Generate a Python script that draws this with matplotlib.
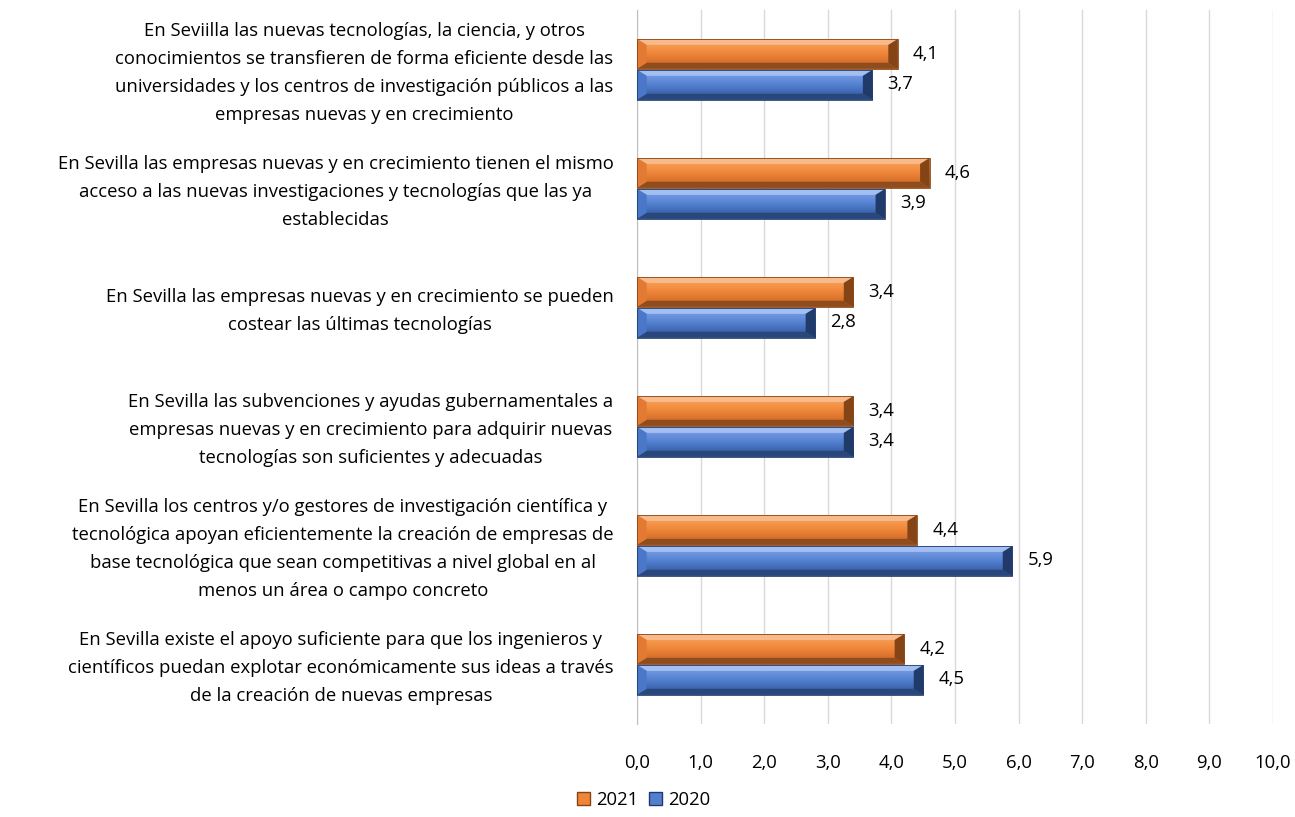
import matplotlib.pyplot as plt
from matplotlib.patches import Polygon, Rectangle, Patch
from matplotlib.colors import LinearSegmentedColormap
import numpy as np

plt.rcParams['font.family'] = ['Open Sans', 'DejaVu Sans']

categories = [
    "En Seviilla las nuevas tecnologías, la ciencia, y otros\nconocimientos se transfieren de forma eficiente desde las\nuniversidades y los centros de investigación públicos a las\nempresas nuevas y en crecimiento",
    "En Sevilla las empresas nuevas y en crecimiento tienen el mismo\nacceso a las nuevas investigaciones y tecnologías que las ya\nestablecidas",
    "En Sevilla las empresas nuevas y en crecimiento se pueden\ncostear las últimas tecnologías",
    "En Sevilla las subvenciones y ayudas gubernamentales a\nempresas nuevas y en crecimiento para adquirir nuevas\ntecnologías son suficientes y adecuadas",
    "En Sevilla los centros y/o gestores de investigación científica y\ntecnológica apoyan eficientemente la creación de empresas de\nbase tecnológica que sean competitivas a nivel global en al\nmenos un área o campo concreto",
    "En Sevilla existe el apoyo suficiente para que los ingenieros y\ncientíficos puedan explotar económicamente sus ideas a través\nde la creación de nuevas empresas",
]
v2021 = [4.1, 4.6, 3.4, 3.4, 4.4, 4.2]
v2020 = [3.7, 3.9, 2.8, 3.4, 5.9, 4.5]
xticks = np.arange(0, 11, 1)

# face gradient (top -> bottom), top bevel, bottom bevel, left bevel, right bevel, outline
orange = dict(face=['#F7A565', '#F5974C', '#EE8538', '#D9722C', '#C16526'],
              top='#F8BA8A', bot='#8F4C1C', left='#E27A33', right='#854416', edge='#854416')
blue = dict(face=['#82A6EA', '#6B92DE', '#5280CF', '#3F68B3', '#375BA0'],
            top='#A3BEF0', bot='#2A477C', left='#4A77C7', right='#203A6A', edge='#203A6A')

bar_h = 0.25
bx = 0.15   # bevel width (x, data units)
by = 0.05   # bevel height (y, data units)


def bevel_bar(ax, y, w, c):
    y0, y1 = y - bar_h / 2, y + bar_h / 2   # y axis inverted: y0 is the top edge
    cmap = LinearSegmentedColormap.from_list('g', c['face'])
    grad = np.linspace(0, 1, 64).reshape(-1, 1)
    ax.imshow(grad, cmap=cmap, aspect='auto', extent=(0, w, y1, y0),
              origin='upper', interpolation='bilinear', zorder=3)
    top = [(0, y0), (w, y0), (w - bx, y0 + by), (bx, y0 + by)]
    bot = [(0, y1), (w, y1), (w - bx, y1 - by), (bx, y1 - by)]
    left = [(0, y0), (bx, y0 + by), (bx, y1 - by), (0, y1)]
    right = [(w, y0), (w - bx, y0 + by), (w - bx, y1 - by), (w, y1)]
    ax.add_patch(Polygon(top, closed=True, facecolor=c['top'], edgecolor='none', zorder=4))
    ax.add_patch(Polygon(bot, closed=True, facecolor=c['bot'], edgecolor='none', zorder=4))
    ax.add_patch(Polygon(left, closed=True, facecolor=c['left'], edgecolor='none', zorder=4))
    ax.add_patch(Polygon(right, closed=True, facecolor=c['right'], edgecolor='none', zorder=4))
    ax.add_patch(Rectangle((0, y0), w, bar_h, facecolor='none', edgecolor=c['edge'],
                           lw=0.6, zorder=5))


fig = plt.figure(figsize=(12.95, 8.17), dpi=100)
ax = fig.add_axes([0.492, 0.114, 0.491, 0.874])

y = np.arange(len(categories))
for i in range(len(categories)):
    bevel_bar(ax, y[i] - bar_h / 2 - 0.005, v2021[i], orange)
    bevel_bar(ax, y[i] + bar_h / 2 + 0.005, v2020[i], blue)
    ax.annotate(f'{v2021[i]:.1f}'.replace('.', ','), (v2021[i], y[i] - bar_h / 2),
                xytext=(11, 0), textcoords='offset points', va='center', ha='left', fontsize=13.3)
    ax.annotate(f'{v2020[i]:.1f}'.replace('.', ','), (v2020[i], y[i] + bar_h / 2),
                xytext=(11, 0), textcoords='offset points', va='center', ha='left', fontsize=13.3)

ax.set_xlim(0, 10)
ax.set_ylim(len(categories) - 0.5, -0.5)
ax.set_xticks(xticks)
ax.set_xticklabels([f'{t:.1f}'.replace('.', ',') for t in xticks], fontsize=13.3)
ax.set_yticks(y)
ax.set_yticklabels([])
ax.tick_params(length=0, pad=22)
ax.xaxis.grid(True, color='#D9D9D9', lw=1)
ax.set_axisbelow(True)
for s in ['top', 'right', 'bottom']:
    ax.spines[s].set_visible(False)
ax.spines['left'].set_color('#BFBFBF')

for i, c in enumerate(categories):
    ax.text(-0.37, y[i] + 0.03, c, transform=ax.transData, ha='right', va='center',
            multialignment='center', fontsize=13.3, linespacing=1.72)

handles = [Patch(facecolor=orange['face'][2], edgecolor=orange['edge']),
           Patch(facecolor=blue['face'][2], edgecolor=blue['edge'])]
fig.legend(handles, ['2021', '2020'], loc='lower center', bbox_to_anchor=(0.497, -0.01),
           ncol=2, frameon=False, fontsize=13.3, handlelength=0.7, handleheight=0.7,
           handletextpad=0.3, columnspacing=0.6)

fig.savefig('out.png', dpi=100)
